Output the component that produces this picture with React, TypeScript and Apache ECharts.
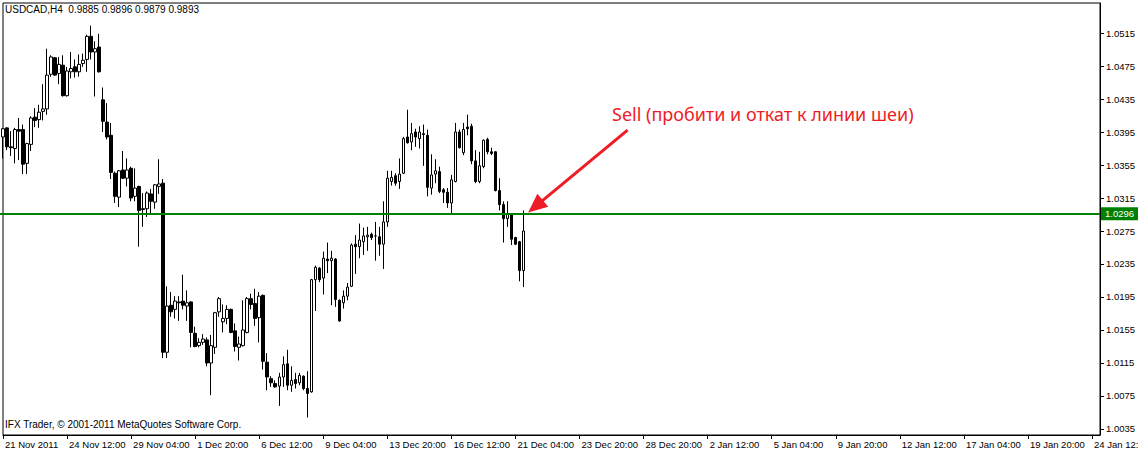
import React, { useEffect, useRef } from "react";
import * as echarts from "echarts";

// Bar index -> one H4 bar (MetaTrader chart).
const opens = [
  1.0389, 1.0400, 1.0377, 1.0375, 1.0398, 1.0398, 1.0357, 1.0380, 1.0413, 1.0410,
  1.0420, 1.0423, 1.0465, 1.0485, 1.0466, 1.0476, 1.0439, 1.0468, 1.0474, 1.0468,
  1.0478, 1.0483, 1.0511, 1.0492, 1.0498, 1.0434, 1.0407, 1.0391, 1.0345, 1.0316,
  1.0349, 1.0339, 1.0351, 1.0317, 1.0329, 1.0302, 1.0302, 1.0320, 1.0310, 1.0329,
  1.0333, 1.0128, 1.0185, 1.0180, 1.0189, 1.0190, 1.0184, 1.0189, 1.0151, 1.0136,
  1.0140, 1.0143, 1.0115, 1.0134, 1.0177, 1.0165, 1.0169, 1.0180, 1.0154, 1.0134,
  1.0136, 1.0152, 1.0193, 1.0187, 1.0170, 1.0197, 1.0116, 1.0096, 1.0090, 1.0087,
  1.0098, 1.0114, 1.0088, 1.0095, 1.0091, 1.0099, 1.0084, 1.0080, 1.0216, 1.0230,
  1.0218, 1.0241, 1.0239, 1.0241, 1.0191, 1.0188, 1.0196, 1.0208, 1.0259, 1.0256,
  1.0262, 1.0268, 1.0271, 1.0269, 1.0268, 1.0259, 1.0286, 1.0335, 1.0342, 1.0335,
  1.0345, 1.0389, 1.0383, 1.0395, 1.0387, 1.0393, 1.0391, 1.0327, 1.0344, 1.0347,
  1.0325, 1.0322, 1.0309, 1.0335, 1.0395, 1.0370, 1.0401, 1.0402, 1.0360, 1.0335,
  1.0353, 1.0386, 1.0371, 1.0371, 1.0324, 1.0307, 1.0290, 1.0295, 1.0267, 1.0262,
  1.0227,
];
const highs = [
  1.0400, 1.0401, 1.0396, 1.0400, 1.0412, 1.0404, 1.0382, 1.0414, 1.0424, 1.0428,
  1.0453, 1.0496, 1.0488, 1.0486, 1.0486, 1.0488, 1.0474, 1.0492, 1.0483, 1.0489,
  1.0490, 1.0513, 1.0524, 1.0505, 1.0514, 1.0449, 1.0430, 1.0406, 1.0347, 1.0349,
  1.0372, 1.0363, 1.0353, 1.0351, 1.0330, 1.0321, 1.0323, 1.0326, 1.0332, 1.0362,
  1.0338, 1.0208, 1.0201, 1.0196, 1.0196, 1.0222, 1.0203, 1.0190, 1.0159, 1.0145,
  1.0150, 1.0146, 1.0149, 1.0177, 1.0195, 1.0186, 1.0185, 1.0181, 1.0163, 1.0147,
  1.0191, 1.0195, 1.0199, 1.0205, 1.0201, 1.0198, 1.0127, 1.0099, 1.0094, 1.0103,
  1.0123, 1.0131, 1.0111, 1.0103, 1.0103, 1.0100, 1.0105, 1.0217, 1.0233, 1.0231,
  1.0250, 1.0261, 1.0251, 1.0242, 1.0192, 1.0203, 1.0212, 1.0260, 1.0270, 1.0284,
  1.0279, 1.0280, 1.0273, 1.0286, 1.0280, 1.0311, 1.0348, 1.0348, 1.0345, 1.0363,
  1.0389, 1.0422, 1.0406, 1.0399, 1.0402, 1.0404, 1.0398, 1.0368, 1.0362, 1.0353,
  1.0327, 1.0327, 1.0343, 1.0406, 1.0398, 1.0406, 1.0416, 1.0405, 1.0373, 1.0371,
  1.0386, 1.0388, 1.0376, 1.0372, 1.0339, 1.0311, 1.0311, 1.0296, 1.0268, 1.0263,
  1.0300,
];
const lows = [
  1.0363, 1.0373, 1.0366, 1.0357, 1.0361, 1.0344, 1.0344, 1.0372, 1.0401, 1.0400,
  1.0409, 1.0416, 1.0462, 1.0463, 1.0453, 1.0438, 1.0438, 1.0460, 1.0461, 1.0462,
  1.0474, 1.0468, 1.0483, 1.0438, 1.0467, 1.0395, 1.0386, 1.0338, 1.0309, 1.0304,
  1.0338, 1.0329, 1.0311, 1.0311, 1.0256, 1.0280, 1.0292, 1.0296, 1.0302, 1.0320,
  1.0121, 1.0121, 1.0171, 1.0169, 1.0166, 1.0180, 1.0166, 1.0134, 1.0134, 1.0134,
  1.0137, 1.0111, 1.0076, 1.0126, 1.0171, 1.0152, 1.0162, 1.0151, 1.0129, 1.0118,
  1.0135, 1.0151, 1.0180, 1.0160, 1.0140, 1.0107, 1.0082, 1.0086, 1.0085, 1.0063,
  1.0086, 1.0082, 1.0080, 1.0084, 1.0088, 1.0082, 1.0049, 1.0079, 1.0178, 1.0213,
  1.0198, 1.0224, 1.0185, 1.0183, 1.0165, 1.0181, 1.0191, 1.0207, 1.0223, 1.0242,
  1.0246, 1.0251, 1.0264, 1.0239, 1.0245, 1.0229, 1.0280, 1.0330, 1.0330, 1.0326,
  1.0344, 1.0381, 1.0373, 1.0377, 1.0375, 1.0354, 1.0317, 1.0319, 1.0333, 1.0321,
  1.0309, 1.0303, 1.0296, 1.0334, 1.0375, 1.0367, 1.0391, 1.0356, 1.0333, 1.0333,
  1.0351, 1.0368, 1.0367, 1.0323, 1.0300, 1.0261, 1.0280, 1.0258, 1.0258, 1.0214,
  1.0207,
];
const closes = [
  1.0399, 1.0377, 1.0376, 1.0398, 1.0396, 1.0356, 1.0381, 1.0412, 1.0409, 1.0419,
  1.0423, 1.0464, 1.0486, 1.0464, 1.0477, 1.0439, 1.0469, 1.0472, 1.0468, 1.0477,
  1.0482, 1.0511, 1.0492, 1.0496, 1.0468, 1.0408, 1.0389, 1.0346, 1.0317, 1.0348,
  1.0339, 1.0349, 1.0315, 1.0327, 1.0300, 1.0301, 1.0321, 1.0311, 1.0331, 1.0332,
  1.0128, 1.0184, 1.0177, 1.0190, 1.0188, 1.0185, 1.0188, 1.0152, 1.0135, 1.0140,
  1.0144, 1.0115, 1.0136, 1.0176, 1.0193, 1.0169, 1.0180, 1.0152, 1.0135, 1.0138,
  1.0155, 1.0193, 1.0186, 1.0169, 1.0196, 1.0117, 1.0098, 1.0091, 1.0086, 1.0098,
  1.0113, 1.0088, 1.0094, 1.0090, 1.0100, 1.0084, 1.0078, 1.0216, 1.0231, 1.0216,
  1.0242, 1.0239, 1.0242, 1.0192, 1.0166, 1.0196, 1.0207, 1.0258, 1.0256, 1.0264,
  1.0269, 1.0270, 1.0267, 1.0269, 1.0259, 1.0286, 1.0339, 1.0340, 1.0333, 1.0344,
  1.0387, 1.0382, 1.0393, 1.0389, 1.0395, 1.0392, 1.0328, 1.0343, 1.0348, 1.0323,
  1.0322, 1.0309, 1.0337, 1.0395, 1.0376, 1.0398, 1.0399, 1.0360, 1.0335, 1.0354,
  1.0385, 1.0371, 1.0369, 1.0324, 1.0307, 1.0290, 1.0296, 1.0265, 1.0259, 1.0227,
  1.0275,
];

// Time-axis labels, one every 16 bars (the axis runs on into the future).
const xTickLabels = [
  "21 Nov 2011", "24 Nov 12:00", "29 Nov 04:00", "1 Dec 20:00", "6 Dec 12:00",
  "9 Dec 04:00", "13 Dec 20:00", "16 Dec 12:00", "21 Dec 04:00", "23 Dec 20:00",
  "28 Dec 20:00", "2 Jan 12:00", "5 Jan 04:00", "9 Jan 20:00", "12 Jan 12:00",
  "17 Jan 04:00", "19 Jan 20:00", "24 Jan 12:00",
];
const BARS_PER_LABEL = 16;
const TOTAL_SLOTS = 275;

const yTickLabels = [
  1.0035, 1.0075, 1.0115, 1.0155, 1.0195, 1.0235, 1.0275, 1.0315, 1.0355,
  1.0395, 1.0435, 1.0475, 1.0515,
];
const yMin = 1.00277;
const yMax = 1.05514;

const necklinePrice = 1.0296;
const headerText = "USDCAD,H4  0.9885 0.9896 0.9879 0.9893";
const footerText = "IFX Trader, \u00A9 2001-2011 MetaQuotes Software Corp.";
const noteText = "Sell (пробити и откат к линии шеи)";
// arrow of the annotation: [bar index, price]
const arrowFrom = [156.1, 1.03974];
const arrowTo = [132.6, 1.03049];

const categories = Array.from({ length: TOTAL_SLOTS }, (_, i) => String(i));

const FONT = "Liberation Sans";

export default function App() {
  const ref = useRef<HTMLDivElement>(null);

  useEffect(() => {
    if (!ref.current) return;
    const chart = echarts.init(ref.current, null, { renderer: "svg" });
    const candles = opens.map((o, i) => [o, closes[i], lows[i], highs[i]]);

    chart.setOption({
      animation: false,
      backgroundColor: "#ffffff",
      grid: {
        left: 3,
        right: 38,
        top: 3,
        bottom: 17,
        outerBoundsMode: "none",
        containLabel: false,
        show: true,
        borderColor: "#000",
        borderWidth: 1,
        backgroundColor: "#fff",
      },
      xAxis: {
        type: "category",
        data: categories,
        boundaryGap: false,
        axisLine: { show: true, lineStyle: { color: "#000", width: 1 } },
        axisTick: {
          show: true,
          length: 4,
          interval: (index: number) => index % BARS_PER_LABEL === 0,
          lineStyle: { color: "#000" },
        },
        axisLabel: {
          show: true,
          interval: (index: number) => index % BARS_PER_LABEL === 0,
          formatter: (_v: string, index: number) =>
            xTickLabels[Math.floor(index / BARS_PER_LABEL)] ?? "",
          align: "left",
          padding: [0, 0, 0, 2],
          margin: 4,
          color: "#000",
          fontFamily: FONT,
          fontSize: 9.5,
        },
        splitLine: { show: false },
      },
      yAxis: {
        type: "value",
        position: "right",
        min: yMin,
        max: yMax,
        scale: true,
        axisLine: { show: true, lineStyle: { color: "#000", width: 1 } },
        axisTick: {
          show: true,
          length: 4,
          customValues: yTickLabels,
          lineStyle: { color: "#000" },
        },
        axisLabel: {
          show: true,
          customValues: yTickLabels,
          formatter: (v: number) => v.toFixed(4),
          margin: 6,
          color: "#000",
          fontFamily: FONT,
          fontSize: 9.5,
        },
        splitLine: { show: false },
      },
      series: [
        {
          type: "candlestick",
          data: candles,
          barWidth: 3,
          clip: true,
          itemStyle: {
            color: "#ffffff",
            color0: "#000000",
            borderColor: "#000000",
            borderColor0: "#000000",
            borderColorDoji: "#000000",
            borderWidth: 1,
          },
          markLine: {
            silent: true,
            animation: false,
            data: [
              [
                {
                  yAxis: necklinePrice,
                  x: "0%",
                  symbol: "none",
                  lineStyle: { color: "#008000", width: 2, type: "solid" },
                  label: {
                    show: true,
                    position: "end",
                    formatter: necklinePrice.toFixed(4),
                    backgroundColor: "#008000",
                    color: "#ffffff",
                    padding: [2, 6, 1, 4],
                    distance: 1,
                    fontFamily: FONT,
                    fontSize: 9.5,
                  },
                },
                { yAxis: necklinePrice, x: 3 + 1097, symbol: "none" },
              ],
              [
                {
                  coord: arrowFrom,
                  symbol: "none",
                  lineStyle: { color: "#ee1c24", width: 3, type: "solid" },
                  label: { show: false },
                },
                { coord: arrowTo, symbol: "triangle", symbolSize: [17, 19] },
              ],
            ],
          },
        },
      ],
      graphic: [
        {
          type: "text",
          left: 5,
          top: 4,
          silent: true,
          style: {
            text: headerText,
            fill: "#000",
            font: `10px "${FONT}"`,
          },
        },
        {
          type: "text",
          left: 5,
          top: 419,
          silent: true,
          style: {
            text: footerText,
            fill: "#000",
            font: `10px "${FONT}"`,
          },
        },
        {
          type: "text",
          left: 612,
          top: 105,
          silent: true,
          style: {
            text: noteText,
            fill: "#ee1c24",
            font: `18px "Noto Sans"`,
          },
        },
      ],
    });

    return () => chart.dispose();
  }, []);

  return (
    <div
      ref={ref}
      style={{ position: "fixed", left: 0, top: 0, width: 1138, height: 452 }}
    />
  );
}
